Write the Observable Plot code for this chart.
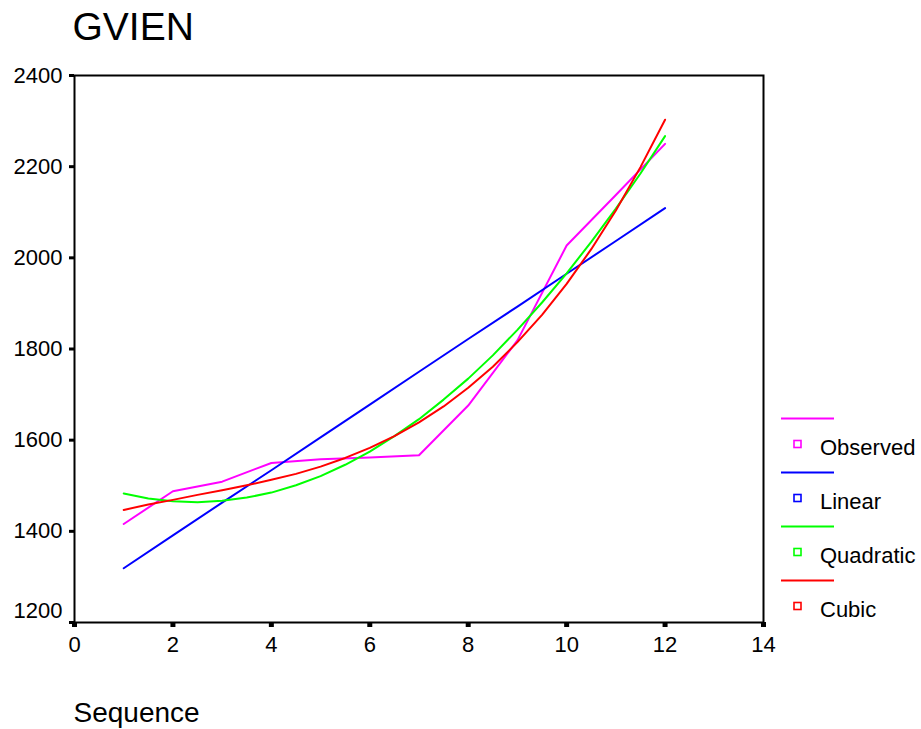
<!DOCTYPE html>
<html>
<head>
<meta charset="utf-8">
<script src="https://cdn.jsdelivr.net/npm/d3@7"></script>
<script src="https://cdn.jsdelivr.net/npm/@observablehq/plot@0.6"></script>
<style>
  html, body { margin: 0; padding: 0; background: #fff; }
</style>
</head>
<body>
<div id="chart"></div>
<script>
// ---- data ----
const chartTitle = "GVIEN";
const xLabel = "Sequence";
const seriesNames = ["Observed", "Linear", "Quadratic", "Cubic"];
const seriesColors = ["#ff00ff", "#0000ff", "#00ff00", "#ff0000"];

const seqX = [1, 2, 3, 4, 5, 6, 7, 8, 9, 10, 11, 12];
const observed = [1416, 1488, 1509, 1550, 1558, 1562, 1567, 1676, 1819, 2027, 2138, 2250];
const linear = [1319, 1391, 1463, 1534, 1606, 1678, 1750, 1822, 1893, 1965, 2037, 2109];

const fitX = [1, 1.5, 2, 2.5, 3, 3.5, 4, 4.5, 5, 5.5, 6, 6.5, 7, 7.5, 8, 8.5, 9, 9.5, 10, 10.5, 11, 11.5, 12];
const quadratic = [1483, 1472, 1466, 1464, 1467, 1474, 1485, 1501, 1521, 1546, 1575, 1609, 1646, 1689, 1735, 1786, 1842, 1902, 1966, 2035, 2108, 2185, 2267];
const cubic = [1447, 1459, 1469, 1480, 1490, 1501, 1513, 1526, 1542, 1561, 1583, 1609, 1639, 1674, 1715, 1761, 1815, 1875, 1943, 2019, 2104, 2199, 2303];

const xTicks = [0, 2, 4, 6, 8, 10, 12, 14];
const yTicks = [1200, 1400, 1600, 1800, 2000, 2200, 2400];

// ---- build table ----
const rows = [
  ...seqX.map((x, i) => ({x, y: observed[i], series: "Observed"})),
  ...seqX.map((x, i) => ({x, y: linear[i], series: "Linear"})),
  ...fitX.map((x, i) => ({x, y: quadratic[i], series: "Quadratic"})),
  ...fitX.map((x, i) => ({x, y: cubic[i], series: "Cubic"}))
];

const FONT = "'Liberation Sans', Arial, Helvetica, sans-serif";

function legendMark(index, scales, values, dims) {
  const g = d3.create("svg:g");
  const x0 = dims.width - dims.marginRight + 18;
  seriesNames.forEach((name, i) => {
    const yLine = 418.5 + 54 * i;
    g.append("line")
      .attr("x1", x0).attr("x2", x0 + 53)
      .attr("y1", yLine).attr("y2", yLine)
      .attr("stroke", seriesColors[i]).attr("stroke-width", 2);
    g.append("rect")
      .attr("x", x0 + 13).attr("y", yLine + 22)
      .attr("width", 7).attr("height", 7)
      .attr("fill", "none").attr("stroke", seriesColors[i]).attr("stroke-width", 1.6);
    g.append("text")
      .attr("x", x0 + 39).attr("y", yLine + 36.5)
      .attr("text-anchor", "start")
      .attr("font-size", 22).attr("fill", "black")
      .attr("font-family", FONT)
      .text(name);
  });
  return g.node();
}

const chart = Plot.plot({
  width: 921,
  height: 729,
  marginLeft: 74,
  marginRight: 158,
  marginTop: 75,
  marginBottom: 107,
  style: {fontFamily: FONT, fontSize: "22px", color: "black", background: "white"},
  x: {domain: [0, 14], ticks: xTicks},
  y: {domain: [1200, 2400], ticks: yTicks},
  color: {domain: seriesNames, range: seriesColors},
  marks: [
    Plot.line(rows, {x: "x", y: "y", z: "series", stroke: "series", strokeWidth: 2}),
    Plot.frame({stroke: "black", strokeWidth: 2}),
    Plot.axisX({ticks: xTicks, tickSize: 5, tickPadding: 9, strokeWidth: 5, label: null,
      fontSize: 22, tickFormat: d => String(d)}),
    Plot.axisY({ticks: yTicks, tickSize: 5, tickPadding: 7, strokeWidth: 3, label: null,
      fontSize: 22, tickFormat: d => d === 1200 ? "" : String(d)}),
    Plot.axisY({ticks: [1200], tickSize: 0, tickPadding: 12, dy: -12, label: null,
      fontSize: 22, tickFormat: d => String(d)}),
    Plot.text([chartTitle], {frameAnchor: "top-left", text: d => d, dx: -2, dy: -47.5,
      textAnchor: "start", lineAnchor: "middle", fontSize: 39, fill: "black"}),
    Plot.text([xLabel], {frameAnchor: "bottom-left", text: d => d, dx: -1, dy: 90.5,
      textAnchor: "start", lineAnchor: "middle", fontSize: 28, fill: "black"}),
    legendMark
  ]
});

document.getElementById("chart").appendChild(chart);
</script>
</body>
</html>
